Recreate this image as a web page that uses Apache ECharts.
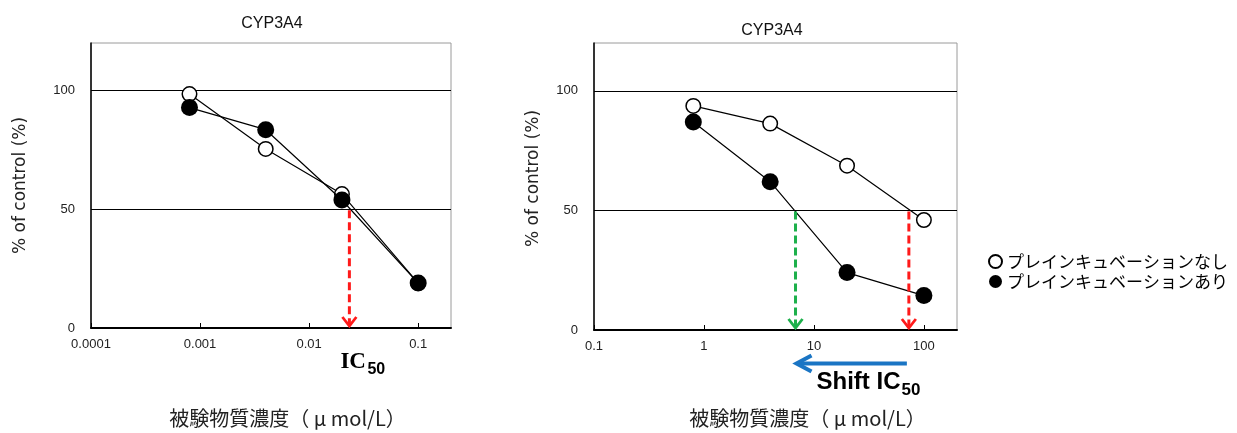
<!DOCTYPE html>
<html>
<head>
<meta charset="utf-8">
<script src="https://cdn.jsdelivr.net/npm/echarts@6/dist/echarts.min.js"></script>
<style>
html,body{margin:0;padding:0;background:#fff;}
#chart{width:1237px;height:433px;}
</style>
</head>
<body>
<div id="chart"></div>
<script>
// ---- data ----
const titles = ['CYP3A4', 'CYP3A4'];
const seriesNames = ['プレインキュベーションなし', 'プレインキュベーションあり'];
const concLeft = [0.0008, 0.004, 0.02, 0.1];
const noPreLeft = [98.5, 75.4, 56.4, 18.9];
const preLeft = [92.8, 83.5, 53.9, 18.9];
const concRight = [0.8, 4, 20, 100];
const noPreRight = [93.7, 86.3, 68.7, 46.0];
const preRight = [87.0, 62.0, 24.0, 14.4];
const ic50Left = 0.0234;
const ic50RightNo = 73;
const ic50RightPre = 6.8;
const yTicks = [0, 50, 100];
const yName = '% of control (%)';
const xName = '被験物質濃度（ μ mol/L）';

const pairs = (xs, ys) => xs.map((x, i) => [x, ys[i]]);

const chart = echarts.init(document.getElementById('chart'), null, {renderer: 'canvas'});

function xAxisOpt(grid, min, max, padLeft, gap) {
  return {
    type: 'log', logBase: 10, gridIndex: grid, min: min, max: max,
    axisLine: {show: true, lineStyle: {color: '#000', width: 2}},
    axisTick: {show: true, inside: true, length: 5, lineStyle: {color: '#000', width: 1}},
    axisLabel: {fontSize: 13, color: '#222', margin: 10, showMaxLabel: false,
      fontFamily: 'Liberation Sans', formatter: v => String(+v.toPrecision(6))},
    splitLine: {show: false},
    name: xName, nameLocation: 'middle', nameGap: gap,
    nameTextStyle: {fontSize: 20, color: '#222', fontFamily: 'Noto Sans CJK JP', padding: [0, 0, 0, padLeft]}
  };
}
function yAxisOpt(grid, gap, pad) {
  return {
    type: 'value', gridIndex: grid, min: 0, max: 120, interval: 50,
    axisLine: {show: true, lineStyle: {color: '#000', width: 1.5}},
    axisTick: {show: false},
    axisLabel: {fontSize: 13, color: '#222', margin: 16, showMaxLabel: false,
      fontFamily: 'Liberation Sans', formatter: v => yTicks.includes(v) ? String(v) : ''},
    splitLine: {show: true, showMinLine: false, showMaxLine: false, lineStyle: {color: '#000', width: 1}},
    name: yName, nameLocation: 'middle', nameGap: gap, nameRotate: 90,
    nameTextStyle: {fontSize: 17, color: '#222', fontFamily: 'DejaVu Sans', padding: pad}
  };
}
function lineSeries(name, data, grid, filled) {
  return {
    name: name, type: 'line', xAxisIndex: grid, yAxisIndex: grid, data: data,
    symbol: 'circle', symbolSize: filled ? 17 : 14.5,
    itemStyle: filled ? {color: '#000', borderColor: '#000', borderWidth: 0}
                      : {color: '#fff', borderColor: '#000', borderWidth: 1.5},
    lineStyle: {color: '#000', width: 1.2},
    z: filled ? 3 : 2,
    emphasis: {disabled: true}, silent: true, animation: false
  };
}
function dropArrow(grid, color, x, labelFn) {
  return {
    type: 'custom', xAxisIndex: grid, yAxisIndex: grid, data: [[x, 50, 0]],
    encode: {x: 0, y: [1, 2]}, clip: false, silent: true, z: 4,
    renderItem: function (params, api) {
      const top = api.coord([api.value(0), api.value(1)]);
      const bot = api.coord([api.value(0), api.value(2)]);
      const children = [
        {type: 'line', shape: {x1: top[0], y1: top[1] + 1, x2: bot[0], y2: bot[1] - 3},
          style: {stroke: color, lineWidth: 3, lineDash: [8, 4]}},
        {type: 'polyline', shape: {points: [[bot[0] - 7, bot[1] - 11], [bot[0], bot[1] - 2], [bot[0] + 7, bot[1] - 11]]},
          style: {stroke: color, lineWidth: 2.8, fill: null}}
      ];
      if (labelFn) children.push(...labelFn(bot));
      return {type: 'group', children: children};
    }
  };
}

const option = {
  backgroundColor: '#fff',
  animation: false,
  title: [
    {text: titles[0], left: 272, top: 16, textAlign: 'center', padding: 0,
      textStyle: {fontSize: 16, fontWeight: 'normal', color: '#111', fontFamily: 'Liberation Sans'}},
    {text: titles[1], left: 772, top: 23, textAlign: 'center', padding: 0,
      textStyle: {fontSize: 16, fontWeight: 'normal', color: '#111', fontFamily: 'Liberation Sans'}}
  ],
  legend: {
    data: seriesNames, orient: 'vertical', left: 988, top: 253, padding: 0,
    icon: 'circle', itemWidth: 13, itemHeight: 13, itemGap: 3,
    selectedMode: false,
    textStyle: {fontSize: 17, color: '#000', fontFamily: 'Noto Sans CJK JP'}
  },
  grid: [
    {left: 91, top: 43, width: 360, height: 288, show: true, borderColor: '#9a9a9a', borderWidth: 1, backgroundColor: 'transparent'},
    {left: 594, top: 43, width: 363, height: 290, show: true, borderColor: '#9a9a9a', borderWidth: 1, backgroundColor: 'transparent'}
  ],
  xAxis: [xAxisOpt(0, 0.0001, 0.2, 33, 80), xAxisOpt(1, 0.1, 200, 64, 78)],
  yAxis: [yAxisOpt(0, 62, [0, 0, 0, 0]), yAxisOpt(1, 52, [0, 0, 0, 16])],
  series: [
    lineSeries(seriesNames[0], pairs(concLeft, noPreLeft), 0, false),
    lineSeries(seriesNames[1], pairs(concLeft, preLeft), 0, true),
    lineSeries(seriesNames[0], pairs(concRight, noPreRight), 1, false),
    lineSeries(seriesNames[1], pairs(concRight, preRight), 1, true),
    dropArrow(0, '#ff1a1a', ic50Left, function (bot) {
      return [
        {type: 'text', style: {text: 'IC', x: bot[0] - 9, y: bot[1] + 34, verticalAlign: 'middle', align: 'left',
          font: 'bold 23px "Liberation Serif"', fill: '#000'}},
        {type: 'text', style: {text: '50', x: bot[0] + 18, y: bot[1] + 41.5, verticalAlign: 'middle', align: 'left',
          font: 'bold 16px "Liberation Sans"', fill: '#000'}}
      ];
    }),
    dropArrow(1, '#ff1a1a', ic50RightNo, null),
    dropArrow(1, '#1db04b', ic50RightPre, null),
    {
      type: 'custom', xAxisIndex: 1, yAxisIndex: 1, data: [[ic50RightNo, 0, ic50RightPre]],
      encode: {x: [0, 2], y: 1}, clip: false, silent: true, z: 4,
      renderItem: function (params, api) {
        const a = api.coord([api.value(0), api.value(1)]);
        const b = api.coord([api.value(2), api.value(1)]);
        const y = a[1] + 33.5;
        const col = '#1a75c4';
        return {type: 'group', children: [
          {type: 'line', shape: {x1: a[0] - 2, y1: y, x2: b[0] + 2, y2: y}, style: {stroke: col, lineWidth: 4}},
          {type: 'polyline', shape: {points: [[b[0] + 16, y - 8], [b[0] + 1, y], [b[0] + 16, y + 8]]},
            style: {stroke: col, lineWidth: 4, fill: null, lineJoin: 'miter'}},
          {type: 'text', style: {text: 'Shift IC', x: b[0] + 21, y: a[1] + 52, verticalAlign: 'middle', align: 'left',
            font: 'bold 24px "Liberation Sans"', fill: '#000'}},
          {type: 'text', style: {text: '50', x: b[0] + 106, y: a[1] + 60, verticalAlign: 'middle', align: 'left',
            font: 'bold 17px "Liberation Sans"', fill: '#000'}}
        ]};
      }
    }
  ]
};
chart.setOption(option);
</script>
</body>
</html>
